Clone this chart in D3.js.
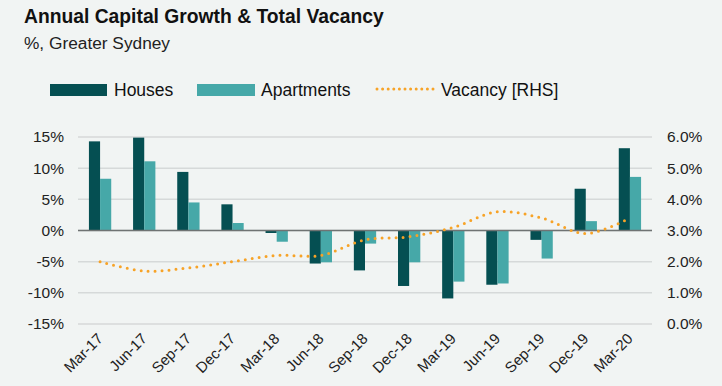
<!DOCTYPE html>
<html>
<head>
<meta charset="utf-8">
<script src="https://cdn.jsdelivr.net/npm/d3@7"></script>
<style>
  body { margin: 0; background: #f1f4f3; }
  svg { display: block; font-family: "Liberation Sans", Arial, sans-serif; }
</style>
</head>
<body>
<div id="chart"></div>
<script>
// data
var quarters = ["Mar-17", "Jun-17", "Sep-17", "Dec-17", "Mar-18", "Jun-18", "Sep-18",
                "Dec-18", "Mar-19", "Jun-19", "Sep-19", "Dec-19", "Mar-20"];
var houses     = [14.3, 14.9, 9.4, 4.2, -0.4, -5.3, -6.4, -8.9, -10.9, -8.7, -1.5, 6.7, 13.2];
var apartments = [8.3, 11.1, 4.5, 1.2, -1.8, -5.1, -2.1, -5.1, -8.2, -8.5, -4.5, 1.5, 8.6];
var vacancy    = [2.0, 1.7, 1.8, 2.0, 2.2, 2.2, 2.7, 2.8, 3.1, 3.6, 3.4, 2.9, 3.4];
var leftTicks  = [-15, -10, -5, 0, 5, 10, 15];
var rightTicks = [0, 1, 2, 3, 4, 5, 6];

var svgWidth = 722;
var svgHeight = 386;

//margins of the plot area
var margin = { top: 137, right: 70, bottom: 62, left: 78 };
var width = svgWidth - margin.left - margin.right;
var height = svgHeight - margin.top - margin.bottom;

var colors = { houses: "#054f52", apartments: "#46a8a8", vacancy: "#f7a327" };

var svg = d3.select("#chart")
  .append("svg")
  .attr("width", svgWidth)
  .attr("height", svgHeight);

svg.append("rect").attr("width", svgWidth).attr("height", svgHeight).attr("fill", "#f1f4f3");

// title + subtitle
svg.append("text")
  .attr("x", 24).attr("y", 23)
  .attr("font-size", 19.3).attr("font-weight", "bold").attr("fill", "#111")
  .text("Annual Capital Growth & Total Vacancy");
svg.append("text")
  .attr("x", 24).attr("y", 49)
  .attr("font-size", 17.3).attr("fill", "#222")
  .text("%, Greater Sydney");

// legend
var legend = svg.append("g").attr("font-size", 17.5).attr("fill", "#111");
legend.append("rect").attr("x", 50).attr("y", 84).attr("width", 57).attr("height", 12).attr("fill", colors.houses);
legend.append("text").attr("x", 114).attr("y", 95.5).text("Houses");
legend.append("rect").attr("x", 197).attr("y", 84).attr("width", 58).attr("height", 12).attr("fill", colors.apartments);
legend.append("text").attr("x", 261).attr("y", 95.5).text("Apartments");
legend.append("line").attr("x1", 377).attr("x2", 433).attr("y1", 89).attr("y2", 89)
  .attr("stroke", colors.vacancy).attr("stroke-width", 3)
  .attr("stroke-linecap", "round").attr("stroke-dasharray", "0,5.6");
legend.append("text").attr("x", 441).attr("y", 95.5).text("Vacancy [RHS]");

var chartGroup = svg.append("g")
  .attr("transform", `translate(${margin.left}, ${margin.top})`);

//scales
var xScale = d3.scaleBand().domain(quarters).range([0, width]);
var xInner = d3.scaleBand().domain(["houses", "apartments"])
  .range([0, xScale.bandwidth()]).paddingInner(0).paddingOuter(0.98);
var yLeft = d3.scaleLinear().domain([-15, 15]).range([height, 0]);
var yRight = d3.scaleLinear().domain([0, 6]).range([height, 0]);

// gridlines
chartGroup.selectAll(".grid")
  .data(leftTicks)
  .enter()
  .append("line")
  .attr("x1", 0).attr("x2", width)
  .attr("y1", d => yLeft(d)).attr("y2", d => yLeft(d))
  .attr("stroke", "#d6d9d9").attr("stroke-width", 1.5);

// axes
var leftAxis = d3.axisLeft(yLeft).tickValues(leftTicks).tickSize(0).tickPadding(14)
  .tickFormat(d => d + "%");
var rightAxis = d3.axisRight(yRight).tickValues(rightTicks).tickSize(0).tickPadding(15)
  .tickFormat(d => d.toFixed(1) + "%");
var bottomAxis = d3.axisBottom(xScale).tickSize(0).tickPadding(0);

chartGroup.append("g").call(leftAxis)
  .call(g => g.select(".domain").remove())
  .selectAll("text").attr("font-size", 15.5).attr("fill", "#222").attr("font-family", "inherit");

chartGroup.append("g").attr("transform", `translate(${width}, 0)`).call(rightAxis)
  .call(g => g.select(".domain").remove())
  .selectAll("text").attr("font-size", 15.5).attr("fill", "#222").attr("font-family", "inherit");

chartGroup.append("g").attr("transform", `translate(0, ${height + 12})`).call(bottomAxis)
  .call(g => g.select(".domain").remove())
  .selectAll("text")
  .attr("font-size", 15).attr("fill", "#222").attr("font-family", "inherit")
  .attr("text-anchor", "end")
  .attr("dy", "0.35em")
  .attr("transform", "rotate(-45)");

// bars
var groups = chartGroup.selectAll(".quarter")
  .data(quarters)
  .enter()
  .append("g")
  .attr("transform", d => `translate(${xScale(d)}, 0)`);

groups.append("rect")
  .attr("x", xInner("houses"))
  .attr("width", xInner.bandwidth())
  .attr("y", (d, i) => yLeft(Math.max(0, houses[i])))
  .attr("height", (d, i) => Math.abs(yLeft(houses[i]) - yLeft(0)))
  .attr("fill", colors.houses);

groups.append("rect")
  .attr("x", xInner("apartments"))
  .attr("width", xInner.bandwidth())
  .attr("y", (d, i) => yLeft(Math.max(0, apartments[i])))
  .attr("height", (d, i) => Math.abs(yLeft(apartments[i]) - yLeft(0)))
  .attr("fill", colors.apartments);

// zero line
chartGroup.append("line")
  .attr("x1", 0).attr("x2", width)
  .attr("y1", yLeft(0)).attr("y2", yLeft(0))
  .attr("stroke", "#6f7373").attr("stroke-width", 1.5);

// vacancy line
var line = d3.line()
  .x((d, i) => xScale(quarters[i]) + xScale.bandwidth() / 2)
  .y(d => yRight(d))
  .curve(d3.curveCatmullRom.alpha(0.5));

chartGroup.append("path")
  .datum(vacancy)
  .attr("d", line)
  .attr("fill", "none")
  .attr("stroke", colors.vacancy)
  .attr("stroke-width", 3)
  .attr("stroke-linecap", "round")
  .attr("stroke-dasharray", "0,7");
</script>
</body>
</html>
